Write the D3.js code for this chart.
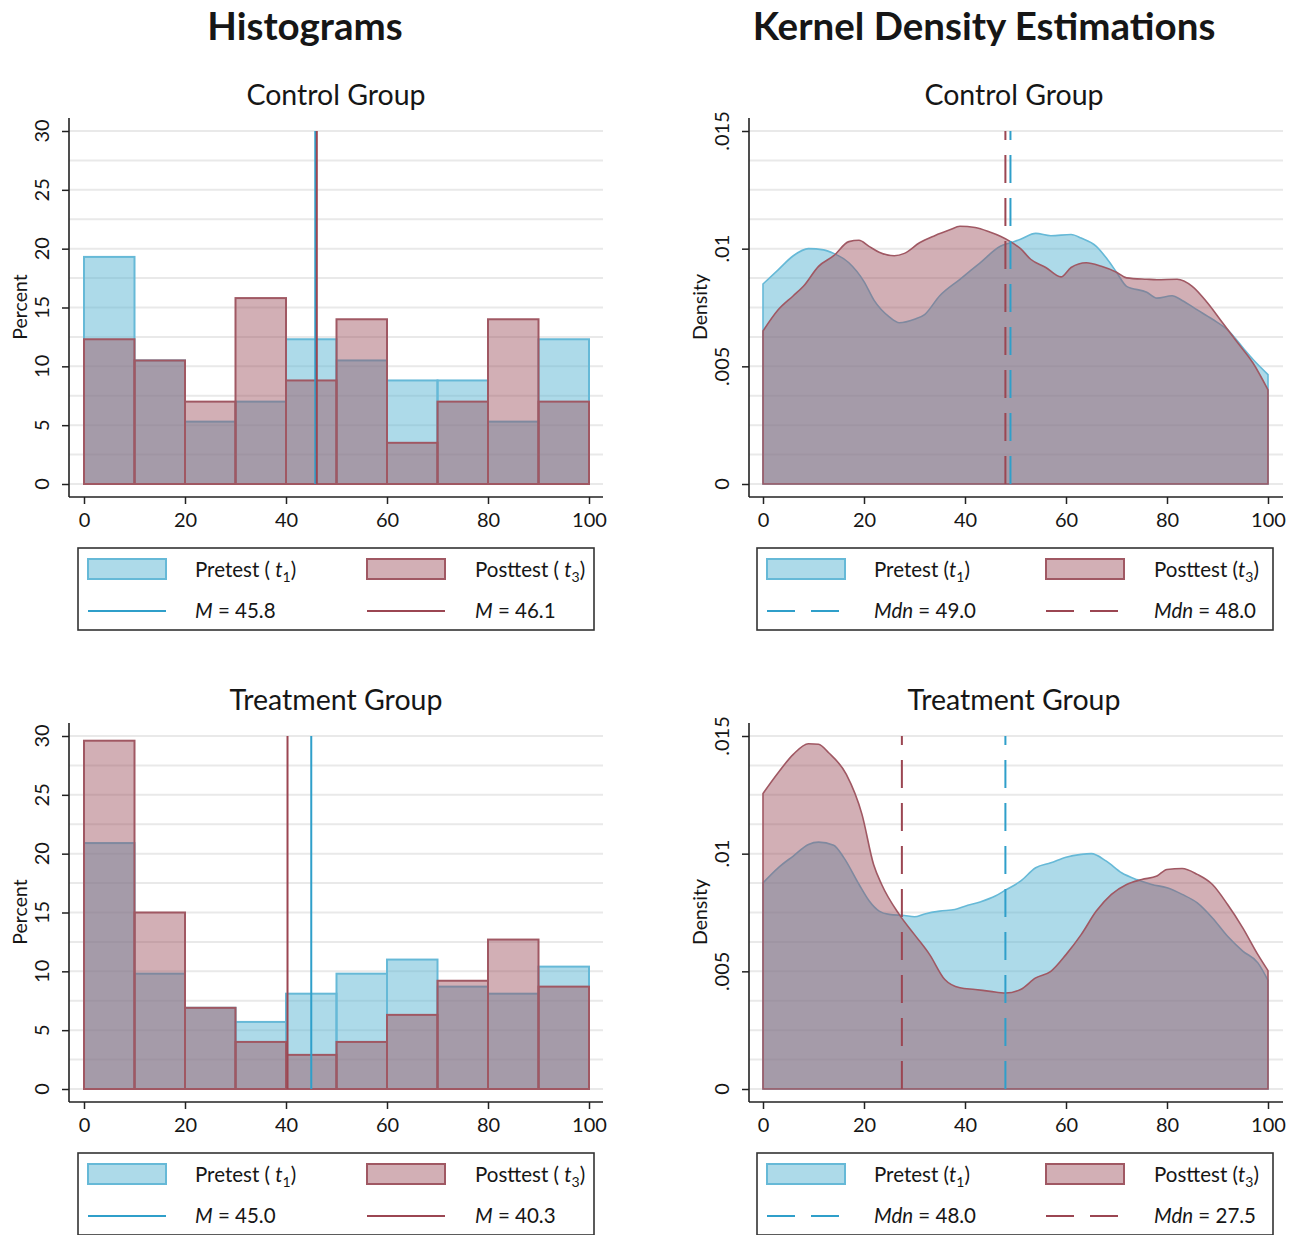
<!DOCTYPE html>
<html>
<head>
<meta charset="utf-8">
<script src="https://cdn.jsdelivr.net/npm/d3@7"></script>
<style>
  body { margin: 0; background: #fff; }
  svg { display: block; }
  text { font-family: Lato, "Open Sans", sans-serif; fill: #161616; }
</style>
</head>
<body>
<svg id="chart" width="1298" height="1235"></svg>
<script>
// ---- Data ---------------------------------------------------------------
const binStarts = [0, 10, 20, 30, 40, 50, 60, 70, 80, 90];
const binWidth = 10;

// Histogram percentages per 10-point bin
const controlPretestPct   = [19.3, 10.5, 5.3, 7.0, 12.3, 10.5, 8.8, 8.8, 5.3, 12.3];
const controlPosttestPct  = [12.3, 10.5, 7.0, 15.8, 8.8, 14.0, 3.5, 7.0, 14.0, 7.0];
const treatmentPretestPct = [20.9, 9.8, 6.9, 5.7, 8.1, 9.8, 11.0, 8.7, 8.1, 10.4];
const treatmentPosttestPct= [29.6, 15.0, 6.9, 4.0, 2.9, 4.0, 6.3, 9.2, 12.7, 8.7];

// Means and medians
const controlMeans   = [45.8, 46.1];   // pretest, posttest
const treatmentMeans = [45.0, 40.3];
const controlMedians   = [49.0, 48.0];
const treatmentMedians = [48.0, 27.5];

// Kernel density estimates: [score, density]
const controlPretestKde = [[0,.0085],[3,.0091],[6,.0097],[9,.0100],[12,.00995],[14,.0098],[17,.0094],
  [20,.0086],[22,.0078],[25,.0071],[27,.00685],[30,.0070],[32,.0072],[35,.0080],[39,.0087],[43,.0094],
  [47,.0101],[49,.01025],[51,.0104],[54,.01065],[57,.01055],[61,.0106],[63,.01045],[66,.0101],
  [68,.0096],[70,.0090],[72,.0084],[76,.00815],[78,.0079],[81,.0080],[83,.0078],[86,.0074],
  [89,.0070],[92,.00655],[95,.0058],[97,.0053],[100,.00465]];
const controlPosttestKde = [[0,.0065],[3,.0074],[6,.0080],[8,.0084],[11,.00925],[14,.0097],[17,.0103],
  [19,.01036],[21,.0101],[23,.00985],[26,.0097],[28,.0098],[31,.01025],[34,.01055],[37,.0108],
  [39,.01095],[42,.0109],[45,.0107],[47,.01053],[49,.0103],[51,.0100],[53,.00955],[56,.0092],
  [59,.0088],[61,.0092],[64,.0094],[67,.00925],[70,.0090],[72,.00876],[76,.0087],[78,.00868],
  [82,.0087],[85,.0084],[88,.0077],[91,.00685],[94,.0060],[97,.00515],[100,.0040]];
const treatmentPretestKde = [[0,.00876],[3,.0094],[6,.0099],[9,.01039],[11,.01049],[14,.01036],
  [16,.00983],[19,.0087],[21,.0080],[23,.00756],[25,.00742],[28,.00737],[30,.00732],[32,.00744],
  [35,.00756],[38,.00763],[40,.00777],[43,.00795],[46,.0082],[48,.00845],[51,.00883],[54,.0094],
  [57,.00961],[60,.00985],[63,.00997],[65,.0100],[68,.00968],[71,.00919],[74,.0089],[77,.00869],
  [80,.00855],[83,.00827],[86,.00791],[89,.00727],[92,.00649],[95,.00586],[98,.00536],[100,.00462]];
const treatmentPosttestKde = [[0,.01256],[3,.01344],[6,.01422],[9,.01467],[11,.01465],[13,.01429],
  [16.5,.01337],[19.6,.01167],[21.9,.00954],[23.5,.00869],[27,.00741],[30,.00656],[33,.00571],
  [36,.00465],[39,.0043],[42,.00423],[45,.00415],[48,.00408],[51,.00423],[54,.00472],[57,.0050],
  [60,.00571],[63,.00656],[66,.00756],[69,.00827],[72,.00869],[75,.0089],[78,.00905],[80,.00933],
  [83,.00937],[86,.00912],[89,.00869],[92,.00784],[95,.00685],[98,.00571],[100,.00503]];

// Axis ticks and labels
const xTicks = [0, 20, 40, 60, 80, 100];
const histTicks = [0, 5, 10, 15, 20, 25, 30];
const densityTicks = [0, .005, .01, .015];
const densityTickLabels = ["0", ".005", ".01", ".015"];

// ---- Styles -------------------------------------------------------------
const BLUE_FILL = "rgba(92,182,212,0.5)";
const BLUE_EDGE = "#66b9d7";
const BLUE_LINE = "#2f9fca";
const RED_FILL = "rgba(158,80,93,0.46)";
const RED_EDGE = "#a05863";
const RED_LINE = "#9b4652";
const GRID = "#e9e9e9";
const AXIS = "#222";
const FONT = "Lato, 'Open Sans', sans-serif";

const svg = d3.select("#chart");

// Headings
svg.append("text").attr("x", 305).attr("y", 40).attr("text-anchor", "middle")
  .style("font-size", "38.5px").style("font-weight", 700).text("Histograms");
svg.append("text").attr("x", 984).attr("y", 40).attr("text-anchor", "middle")
  .style("font-size", "38.5px").style("font-weight", 700).text("Kernel Density Estimations");

function panel(opts) {
  const g = svg.append("g").attr("transform", `translate(0,${opts.dy})`);
  const x = d3.scaleLinear().domain([0, 100]).range([opts.x0, opts.x1]);
  const y = d3.scaleLinear().domain([0, opts.yMax]).range([484, 131]);

  // subtitle
  g.append("text").attr("x", opts.titleX).attr("y", 105).attr("text-anchor", "middle")
    .style("font-size", "28.5px").text(opts.title);

  // horizontal grid (every twelfth of the range)
  const gridVals = d3.range(13).map(i => i * opts.yMax / 12);
  g.append("g").selectAll("line").data(gridVals).join("line")
    .attr("x1", opts.axisX).attr("x2", opts.gridEnd)
    .attr("y1", d => y(d)).attr("y2", d => y(d))
    .attr("stroke", GRID).attr("stroke-width", 2);

  opts.draw(g, x, y);

  // y axis
  const yAxis = d3.axisLeft(y).tickValues(opts.yTicks).tickSize(7)
    .tickFormat((d, i) => opts.yLabels[i]);
  const ya = g.append("g").attr("transform", `translate(${opts.axisX},0)`).call(yAxis);
  ya.select(".domain").remove();
  ya.selectAll(".tick line").attr("stroke", AXIS).attr("stroke-width", 1.5);
  ya.selectAll(".tick text").remove();
  g.append("line").attr("x1", opts.axisX).attr("x2", opts.axisX).attr("y1", 118).attr("y2", 497)
    .attr("stroke", AXIS).attr("stroke-width", 1.6);
  g.append("g").selectAll("text").data(opts.yTicks).join("text")
    .attr("transform", d => `translate(${opts.axisX - 27},${y(d)}) rotate(-90)`)
    .attr("text-anchor", "middle").attr("dy", "0.35em")
    .style("font-size", "20px").text((d, i) => opts.yLabels[i]);
  g.append("text")
    .attr("transform", `translate(${opts.axisX - 49},307) rotate(-90)`)
    .attr("text-anchor", "middle").attr("dy", "0.35em")
    .style("font-size", "19.5px").text(opts.yTitle);

  // x axis
  const xAxis = d3.axisBottom(x).tickValues(xTicks).tickSize(7).tickPadding(9);
  const xa = g.append("g").attr("transform", "translate(0,497)").call(xAxis);
  xa.select(".domain").remove();
  xa.selectAll(".tick line").attr("stroke", AXIS).attr("stroke-width", 1.5);
  xa.selectAll(".tick text").style("font-size", "20px").attr("fill", "#161616")
    .style("font-family", FONT);
  g.append("line").attr("x1", opts.axisX).attr("x2", opts.gridEnd).attr("y1", 497).attr("y2", 497)
    .attr("stroke", AXIS).attr("stroke-width", 1.6);

  legend(g, opts.legendX, 548, 516, 82, opts.legend);
}

function histDraw(pre, post, means) {
  return (g, x, y) => {
    [[pre, BLUE_FILL, BLUE_EDGE], [post, RED_FILL, RED_EDGE]].forEach(([vals, fill, edge]) => {
      g.append("g").selectAll("rect").data(vals).join("rect")
        .attr("x", (d, i) => x(binStarts[i]))
        .attr("width", (d, i) => x(binStarts[i] + binWidth) - x(binStarts[i]))
        .attr("y", d => y(d)).attr("height", d => y(0) - y(d))
        .attr("fill", fill).attr("stroke", edge).attr("stroke-width", 2);
    });
    [[means[0], BLUE_LINE], [means[1], RED_LINE]].forEach(([m, c]) => {
      g.append("line").attr("x1", x(m)).attr("x2", x(m)).attr("y1", y(0)).attr("y2", y(30))
        .attr("stroke", c).attr("stroke-width", 2);
    });
  };
}

function kdeDraw(pre, post, medians) {
  return (g, x, y) => {
    const area = d3.area().x(d => x(d[0])).y0(y(0)).y1(d => y(d[1])).curve(d3.curveMonotoneX);
    [[pre, BLUE_FILL, BLUE_EDGE], [post, RED_FILL, RED_EDGE]].forEach(([vals, fill, edge]) => {
      g.append("path").datum(vals).attr("d", area)
        .attr("fill", fill).attr("stroke", edge).attr("stroke-width", 1.6);
    });
    [[medians[0], BLUE_LINE], [medians[1], RED_LINE]].forEach(([m, c]) => {
      g.append("line").attr("x1", x(m)).attr("x2", x(m)).attr("y1", y(0)).attr("y2", y(0.015))
        .attr("stroke", c).attr("stroke-width", 2).attr("stroke-dasharray", "28,15");
    });
  };
}

function labelText(sel, parts) {
  parts.forEach(p => {
    const t = sel.append("tspan").text(p.t);
    if (p.i) t.style("font-style", "italic");
    if (p.sub) t.attr("dy", 5).style("font-size", "14px");
    if (p.up) t.attr("dy", -5);
  });
}

function legend(g, lx, ly, w, h, spec) {
  g.append("rect").attr("x", lx).attr("y", ly).attr("width", w).attr("height", h)
    .attr("fill", "#fff").attr("stroke", "#333").attr("stroke-width", 1.6);
  const cols = [
    { sx: lx + 10, tx: lx + 117, fill: BLUE_FILL, edge: BLUE_EDGE, line: BLUE_LINE, idx: 0 },
    { sx: lx + 289, tx: lx + 397, fill: RED_FILL, edge: RED_EDGE, line: RED_LINE, idx: 1 }
  ];
  cols.forEach(c => {
    g.append("rect").attr("x", c.sx).attr("y", ly + 11).attr("width", 78).attr("height", 20)
      .attr("fill", c.fill).attr("stroke", c.edge).attr("stroke-width", 2);
    const t1 = g.append("text").attr("x", c.tx).attr("y", ly + 29).style("font-size", "20.5px");
    labelText(t1, spec.series[c.idx]);
    const ln = g.append("line").attr("x1", c.sx).attr("x2", spec.dashed ? c.sx + 72 : c.sx + 78)
      .attr("y1", ly + 63).attr("y2", ly + 63).attr("stroke", c.line).attr("stroke-width", 2);
    if (spec.dashed) ln.attr("stroke-dasharray", "28,16");
    const t2 = g.append("text").attr("x", c.tx).attr("y", ly + 70).style("font-size", "20.5px");
    labelText(t2, spec.stats[c.idx]);
  });
}

const histSeries = [
  [{ t: "Pretest ( " }, { t: "t", i: true }, { t: "1", sub: true }, { t: ")", up: true }],
  [{ t: "Posttest ( " }, { t: "t", i: true }, { t: "3", sub: true }, { t: ")", up: true }]
];
const kdeSeries = [
  [{ t: "Pretest (" }, { t: "t", i: true }, { t: "1", sub: true }, { t: ")", up: true }],
  [{ t: "Posttest (" }, { t: "t", i: true }, { t: "3", sub: true }, { t: ")", up: true }]
];
const meanLabel = v => [{ t: "M", i: true }, { t: " = " + v.toFixed(1) }];
const medianLabel = v => [{ t: "Mdn", i: true }, { t: " = " + v.toFixed(1) }];

const LEFT = { x0: 84, x1: 589, axisX: 69, gridEnd: 603, titleX: 336, legendX: 78 };
const RIGHT = { x0: 763, x1: 1268, axisX: 749, gridEnd: 1283, titleX: 1014, legendX: 757 };

panel(Object.assign({}, LEFT, {
  dy: 0, title: "Control Group", yMax: 30, yTicks: histTicks, yLabels: histTicks.map(String),
  yTitle: "Percent", draw: histDraw(controlPretestPct, controlPosttestPct, controlMeans),
  legend: { series: histSeries, stats: controlMeans.map(meanLabel), dashed: false }
}));
panel(Object.assign({}, RIGHT, {
  dy: 0, title: "Control Group", yMax: 0.015, yTicks: densityTicks, yLabels: densityTickLabels,
  yTitle: "Density", draw: kdeDraw(controlPretestKde, controlPosttestKde, controlMedians),
  legend: { series: kdeSeries, stats: controlMedians.map(medianLabel), dashed: true }
}));
panel(Object.assign({}, LEFT, {
  dy: 605, title: "Treatment Group", yMax: 30, yTicks: histTicks, yLabels: histTicks.map(String),
  yTitle: "Percent", draw: histDraw(treatmentPretestPct, treatmentPosttestPct, treatmentMeans),
  legend: { series: histSeries, stats: treatmentMeans.map(meanLabel), dashed: false }
}));
panel(Object.assign({}, RIGHT, {
  dy: 605, title: "Treatment Group", yMax: 0.015, yTicks: densityTicks, yLabels: densityTickLabels,
  yTitle: "Density", draw: kdeDraw(treatmentPretestKde, treatmentPosttestKde, treatmentMedians),
  legend: { series: kdeSeries, stats: treatmentMedians.map(medianLabel), dashed: true }
}));
</script>
</body>
</html>
